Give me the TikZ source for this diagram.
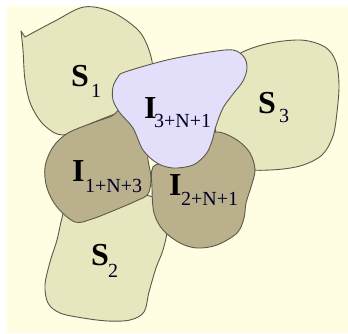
\documentclass[tikz,border=0pt]{standalone}
\usepackage{fontspec}
\setmainfont{Liberation Serif}
\definecolor{bgyellow}{RGB}{255,253,226}
\definecolor{sfill}{RGB}{230,230,191}
\definecolor{ifill}{RGB}{186,176,140}
\definecolor{lavfill}{RGB}{227,223,251}
\definecolor{edge}{RGB}{90,90,72}
\tikzset{
  region/.style={draw=edge, line width=0.9pt, line join=round},
  bigl/.style={anchor=base west, inner sep=0pt, font=\fontsize{32}{32}\selectfont\bfseries, text=black},
  subl/.style={anchor=base west, inner sep=0pt, font=\fontsize{20}{20}\selectfont, text=black!85!blue},
}
\begin{document}
\begin{tikzpicture}[x=1pt, y=-1pt]
\useasboundingbox (0,0) rectangle (348,333);
\fill[white] (0,0) rectangle (348,333);
\fill[bgyellow] (7,6) rectangle (348,333);
% S1
\filldraw[region, fill=sfill] plot[smooth, tension=0.55] coordinates {(25,37) (55,21) (84,7) (112,12) (138,30) (149,50) (153,72) (148,96) (130,110) (115,114) (92,123) (63,135) (44,125) (31,105) (25,80) (23,50) (21,31)} -- cycle;
% S3
\filldraw[region, fill=sfill] plot[smooth cycle, tension=0.55] coordinates {(232,60) (262,45) (300,40) (325,47) (336,62) (339,85) (337,112) (333,136) (322,155) (300,166) (270,170) (245,168) (220,150) (215,100)};
% S2
\filldraw[region, fill=sfill] plot[smooth cycle, tension=0.55] coordinates {(150,196) (163,210) (167,230) (163,250) (156,268) (149,292) (144,312) (130,320) (108,321) (83,318) (60,313) (48,303) (45,285) (50,262) (57,240) (62,218) (70,195) (110,195)};
% I 1+N+3
\filldraw[region, fill=ifill] plot[smooth cycle, tension=0.55] coordinates {(125,108) (112,116) (95,122) (68,133) (53,147) (45,167) (47,188) (57,207) (75,222) (92,219) (115,210) (136,201) (148,194) (151,178) (148,160) (145,135)};
% I 2+N+1
\filldraw[region, fill=ifill] plot[smooth cycle, tension=0.55] coordinates {(153,167) (152,188) (154,213) (163,230) (180,243) (197,248) (217,245) (237,233) (244,218) (246,203) (251,187) (255,170) (250,153) (237,140) (217,132) (195,140) (170,160)};
% I 3+N+1
\filldraw[region, fill=lavfill] plot[smooth cycle, tension=0.55] coordinates {(125,72) (167,60) (210,52) (233,50) (244,57) (247,68) (243,81) (233,94) (223,108) (216,126) (212,141) (206,154) (193,165) (173,168) (157,163) (143,150) (133,128) (120,113) (113,100) (113,87) (118,77)};
% labels
\node[bigl] (s1) at (71,86) {S};
\node[subl] (s1sub) at (91,97) {1};
\node[bigl] (i3) at (144,118) {I};
\node[subl] (i3sub) at (154,127) {3+N+1};
\node[bigl] (s3) at (258,113) {S};
\node[subl] (s3sub) at (279,122) {3};
\node[bigl] (i13) at (72,181) {I};
\node[subl] (i13sub) at (85,192) {1+N+3};
\node[bigl] (i21) at (169,195) {I};
\node[subl] (i21sub) at (181,205) {2+N+1};
\node[bigl] (s2) at (91,265) {S};
\node[subl] (s2sub) at (108,277) {2};
\end{tikzpicture}
\end{document}
